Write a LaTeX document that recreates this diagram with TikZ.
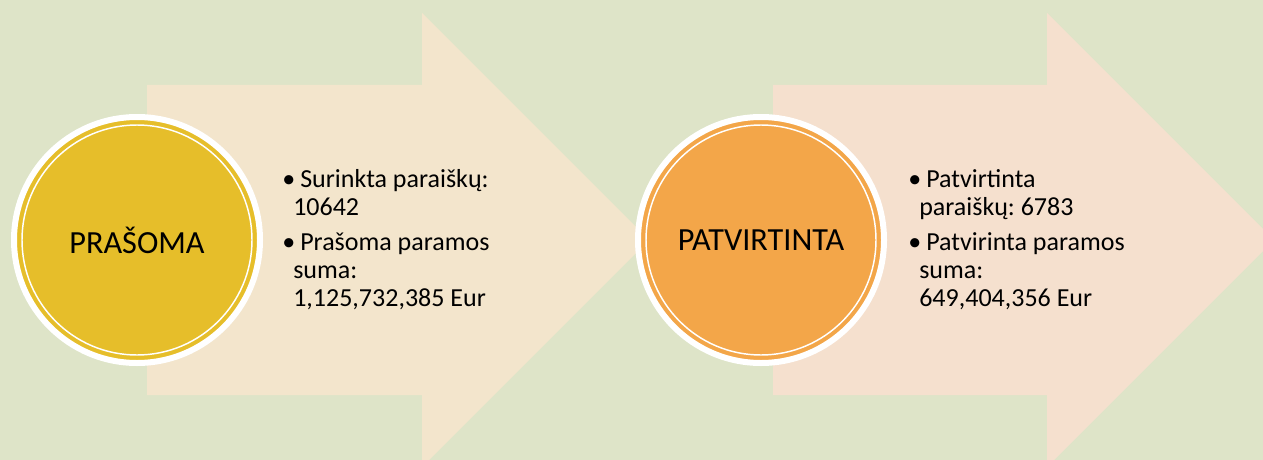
\documentclass[tikz,border=0pt]{standalone}
\usepackage{fontspec}
\setmainfont{Carlito}
\frenchspacing
\definecolor{bggreen}{RGB}{222,228,200}
\definecolor{mybeige}{RGB}{243,229,204}
\definecolor{mypeach}{RGB}{245,224,206}
\definecolor{mygold}{RGB}{230,190,42}
\definecolor{myorange}{RGB}{243,166,73}
\newcommand{\itemdot}{\makebox[13.5pt][l]{\textbullet}}
\newcommand{\itemcont}{\hspace*{8.25pt}}

\begin{document}
\begin{tikzpicture}[x=0.75pt,y=-0.75pt,
    stage/.style={circle,fill=#1,draw=white,line width=4.5pt,
      minimum size=184.5pt,inner sep=0pt,
      font=\fontsize{24.2}{28}\selectfont},
    info/.style={anchor=north west,align=left,inner sep=0pt,
      font=\fontsize{19.5}{21}\selectfont}]
    % Tło
    \fill[bggreen] (0,0) rectangle (1263,460);
    \useasboundingbox (0,0) rectangle (1263,460);
    \clip (0,0) rectangle (1263,460);

    % Strzałka pierwsza
    \fill[mybeige]
      (147,85) -- (422,85) -- (422,13) -- (649,240)
      -- (422,467) -- (422,395) -- (147,395) -- cycle;

    % Strzałka druga
    \fill[mypeach]
      (773,85) -- (1047,85) -- (1047,13) -- (1274,240)
      -- (1047,467) -- (1047,395) -- (773,395) -- cycle;

    % Koło PRAŠOMA
    \node[stage=mygold] (prasoma) at (137,240) {PRAŠOMA};
    \draw[white,line width=1.1pt] (prasoma.center) circle[radius=115];

    % Koło PATVIRTINTA
    \node[stage=myorange] (patvirtinta) at (761,240) {PATVIRTINTA};
    \draw[white,line width=1.1pt] (patvirtinta.center) circle[radius=115];

    % Opisy
    \node[info] (prasomainfo) at (282,169)
      {\itemdot Surinkta paraiškų:\\
       \itemcont 10642\\[5.25pt]
       \itemdot Prašoma paramos\\
       \itemcont suma:\\
       \itemcont 1,125,732,385 Eur};

    \node[info] (patvirtintainfo) at (908,169)
      {\itemdot Patvirtinta\\
       \itemcont paraiškų: 6783\\[5.25pt]
       \itemdot Patvirinta paramos\\
       \itemcont suma:\\
       \itemcont 649,404,356 Eur};
\end{tikzpicture}
\end{document}
